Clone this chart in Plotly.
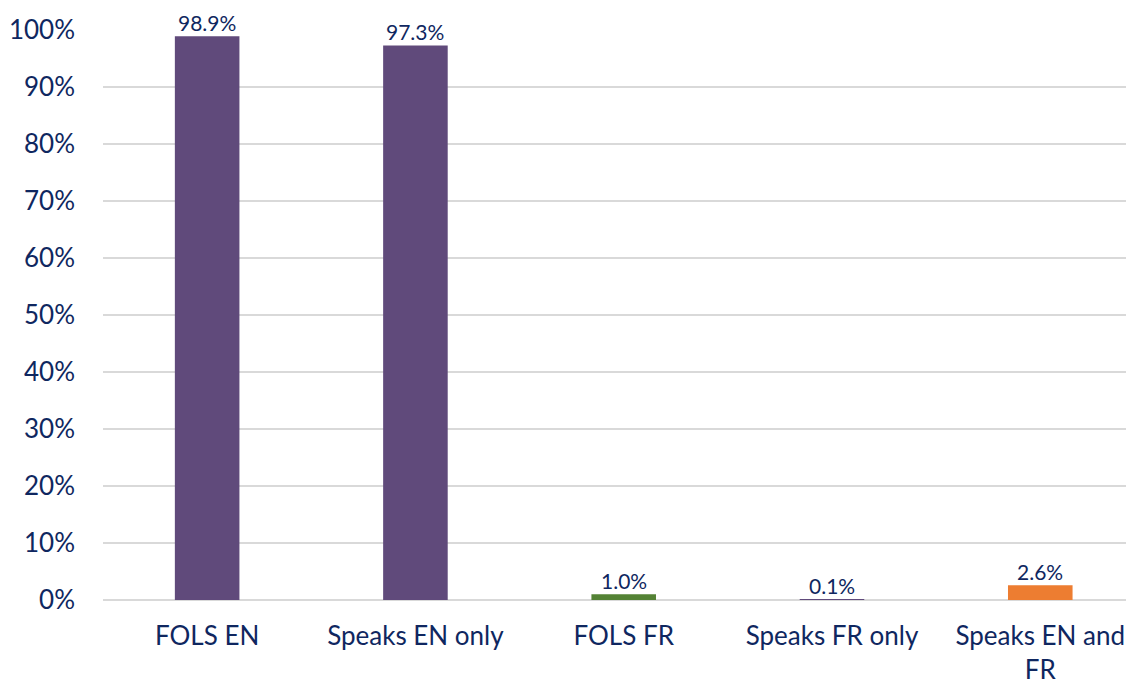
import plotly.graph_objects as go

categories = ["FOLS EN", "Speaks EN only", "FOLS FR", "Speaks FR only", "Speaks EN and<br>FR"]
values = [0.989, 0.973, 0.010, 0.001, 0.026]
labels = ["98.9%", "97.3%", "1.0%", "0.1%", "2.6%"]
colors = ["#604A7B", "#604A7B", "#548235", "#604A7B", "#ED7D31"]
y_ticks = [i / 10 for i in range(11)]
y_tick_labels = [f"{i*10}%" for i in range(11)]

navy = "#0F2760"
font = "Lato, 'Open Sans', sans-serif"

fig = go.Figure(go.Bar(
    x=list(range(len(categories))),
    y=values,
    marker=dict(color=colors, line=dict(width=0)),
    width=0.31,
    cliponaxis=False,
))

for i, (v, lab) in enumerate(zip(values, labels)):
    fig.add_annotation(
        x=i, y=v, text=lab, showarrow=False, yanchor="bottom", yshift=0,
        borderpad=0,
        font=dict(size=21, color=navy, family=font),
    )

fig.update_layout(
    width=1134, height=685,
    margin=dict(l=95, r=8, t=22, b=93, autoexpand=False),
    plot_bgcolor="white", paper_bgcolor="white",
    showlegend=False,
    font=dict(family=font, color=navy),
    xaxis=dict(
        tickmode="array", tickvals=list(range(len(categories))), ticktext=categories,
        range=[-0.5, 4.45], showgrid=False, showline=False, zeroline=False,
        tickfont=dict(size=26, color=navy, family=font), ticks="", ticklabelstandoff=18,
        automargin=False,
    ),
    yaxis=dict(
        range=[0, 1], tickmode="array", tickvals=y_ticks, ticktext=y_tick_labels,
        showgrid=True, gridcolor="#D9D9D9", gridwidth=1.5, zeroline=True,
        zerolinecolor="#D9D9D9", zerolinewidth=1.5, showline=False,
        tickfont=dict(size=26, color=navy, family=font), ticks="", ticklabelstandoff=27,
        automargin=False,
    ),
)

fig.write_html("out.html")
